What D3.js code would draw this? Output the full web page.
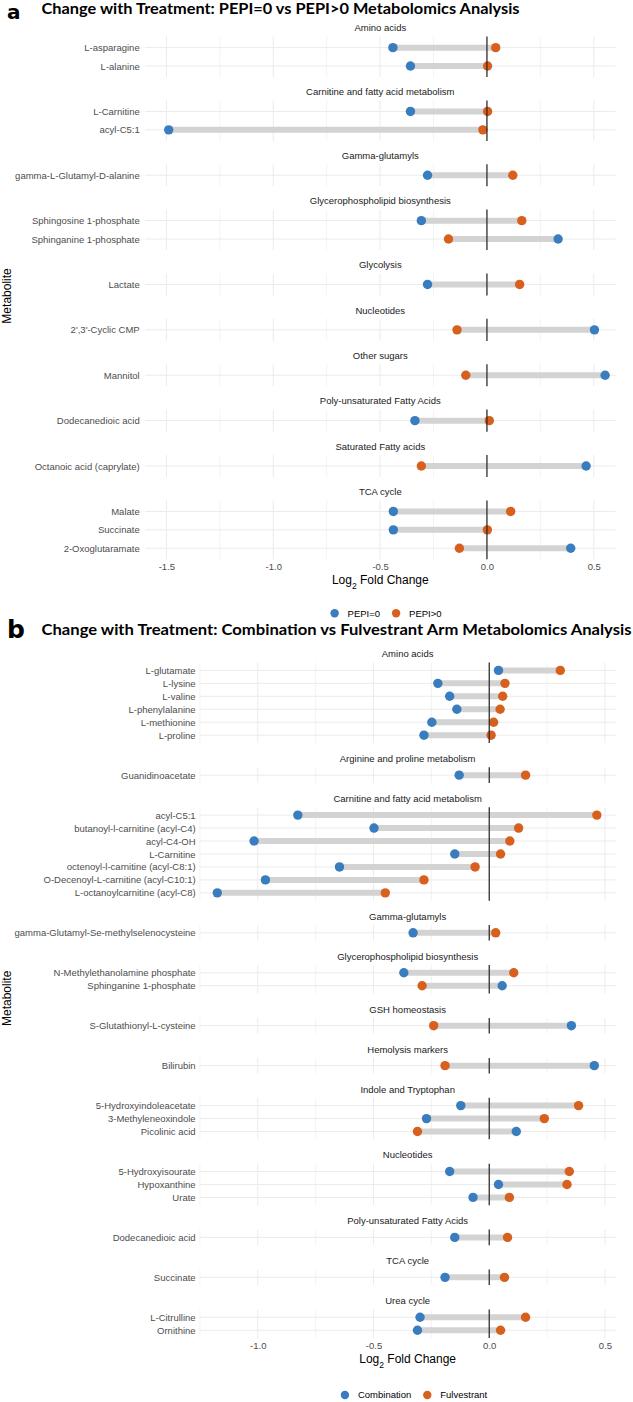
<!DOCTYPE html>
<html>
<head>
<meta charset="utf-8">
<script src="https://cdn.jsdelivr.net/npm/d3@7"></script>
<style>
  body { margin: 0; background: #fff; }
  svg { display: block; }
</style>
</head>
<body>
<div id="chart"></div>
<script>
// ── Panel a data ───────────────────────────────────────────────────────
const groupsA = ["Amino acids", "Carnitine and fatty acid metabolism", "Gamma-glutamyls",
  "Glycerophospholipid biosynthesis", "Glycolysis", "Nucleotides", "Other sugars",
  "Poly-unsaturated Fatty Acids", "Saturated Fatty acids", "TCA cycle"];
const metabolitesA = ["L-asparagine", "L-alanine", "L-Carnitine", "acyl-C5:1",
  "gamma-L-Glutamyl-D-alanine", "Sphingosine 1-phosphate", "Sphinganine 1-phosphate",
  "Lactate", "2',3'-Cyclic CMP", "Mannitol", "Dodecanedioic acid",
  "Octanoic acid (caprylate)", "Malate", "Succinate", "2-Oxoglutaramate"];
const groupIndexA = [0, 0, 1, 1, 2, 3, 3, 4, 5, 6, 7, 8, 9, 9, 9];
const pepi0   = [-0.44, -0.358, -0.358, -1.489, -0.278, -0.307, 0.333, -0.278, 0.503, 0.553, -0.337, 0.464, -0.438, -0.438, 0.392];
const pepiPos = [0.041, 0.003, 0.003, -0.019, 0.121, 0.163, -0.18, 0.153, -0.14, -0.099, 0.011, -0.307, 0.111, 0.002, -0.129];
const ticksA = [-1.5, -1.0, -0.5, 0.0, 0.5];
const legendA = ["PEPI=0", "PEPI>0"];

// ── Panel b data ───────────────────────────────────────────────────────
const groupsB = ["Amino acids", "Arginine and proline metabolism", "Carnitine and fatty acid metabolism",
  "Gamma-glutamyls", "Glycerophospholipid biosynthesis", "GSH homeostasis", "Hemolysis markers",
  "Indole and Tryptophan", "Nucleotides", "Poly-unsaturated Fatty Acids", "TCA cycle", "Urea cycle"];
const metabolitesB = ["L-glutamate", "L-lysine", "L-valine", "L-phenylalanine", "L-methionine", "L-proline",
  "Guanidinoacetate",
  "acyl-C5:1", "butanoyl-l-carnitine (acyl-C4)", "acyl-C4-OH", "L-Carnitine",
  "octenoyl-l-carnitine (acyl-C8:1)", "O-Decenoyl-L-carnitine (acyl-C10:1)", "L-octanoylcarnitine (acyl-C8)",
  "gamma-Glutamyl-Se-methylselenocysteine",
  "N-Methylethanolamine phosphate", "Sphinganine 1-phosphate",
  "S-Glutathionyl-L-cysteine", "Bilirubin",
  "5-Hydroxyindoleacetate", "3-Methyleneoxindole", "Picolinic acid",
  "5-Hydroxyisourate", "Hypoxanthine", "Urate",
  "Dodecanedioic acid", "Succinate", "L-Citrulline", "Ornithine"];
const groupIndexB = [0, 0, 0, 0, 0, 0, 1, 2, 2, 2, 2, 2, 2, 2, 3, 4, 4, 5, 6, 7, 7, 7, 8, 8, 8, 9, 10, 11, 11];
const combination = [0.040, -0.222, -0.171, -0.140, -0.248, -0.282, -0.130, -0.827, -0.498, -1.016, -0.149,
  -0.647, -0.967, -1.175, -0.329, -0.369, 0.056, 0.355, 0.454, -0.123, -0.271, 0.117, -0.171, 0.040, -0.070,
  -0.149, -0.191, -0.299, -0.310];
const fulvestrant = [0.307, 0.068, 0.058, 0.047, 0.019, 0.008, 0.157, 0.465, 0.127, 0.089, 0.049,
  -0.061, -0.282, -0.449, 0.028, 0.106, -0.290, -0.240, -0.191, 0.386, 0.238, -0.310, 0.346, 0.336, 0.087,
  0.079, 0.066, 0.157, 0.049];
const ticksB = [-1.0, -0.5, 0.0, 0.5];
const legendB = ["Combination", "Fulvestrant"];

// ── Styling ────────────────────────────────────────────────────────────
const BLUE = "#3A7DBE";
const ORANGE = "#D8601E";
const GRID = "#EBEBEB";
const SEG = "#D3D3D3";
const LABEL_FONT = "9.5px";

const svg = d3.select("#chart").append("svg")
  .attr("width", 633)
  .attr("height", 1402)
  .style("font-family", "'Liberation Sans', Arial, sans-serif");

function drawPanel(cfg) {
  const x = d3.scaleLinear().domain(cfg.domain).range([cfg.left, cfg.right]);
  const rows = cfg.names.map((name, i) => ({
    name, group: cfg.groupIndex[i], v1: cfg.vals1[i], v2: cfg.vals2[i]
  }));

  const minor = cfg.ticks.map(t => t - 0.25).concat([cfg.ticks[cfg.ticks.length - 1] + 0.25])
    .filter(t => t >= cfg.domain[0] - 0.002 && t <= cfg.domain[1]);

  const g = svg.append("g");

  // Panel letter + title
  g.append("text")
    .attr("x", 7).attr("y", cfg.letterY)
    .style("font-family", "'DejaVu Sans', sans-serif")
    .style("font-weight", "700").style("font-size", cfg.letterSize).style("fill", "#000")
    .text(cfg.letter);
  g.append("text")
    .attr("x", 41.5).attr("y", cfg.titleY)
    .attr("textLength", cfg.titleW).attr("lengthAdjust", "spacingAndGlyphs")
    .style("font-family", "Lato, 'Liberation Sans', sans-serif")
    .style("font-weight", "700").style("font-size", "15px").style("fill", "#000")
    .text(cfg.title);

  let stripY = cfg.firstStrip;
  let firstTop = null, lastBottom = null;

  cfg.groups.forEach((grp, gi) => {
    const fRows = rows.filter(r => r.group === gi);
    const n = fRows.length;
    const top = stripY + 8.6;
    const bottom = top + (n + 0.2) * cfg.unit;
    if (firstTop === null) firstTop = top;
    lastBottom = bottom;

    const y = d3.scalePoint().domain(fRows.map(r => r.name)).range([top, bottom]).padding(0.6);
    const fg = g.append("g");

    // strip label
    fg.append("text")
      .attr("x", (cfg.left + cfg.right) / 2).attr("y", stripY)
      .attr("dy", "0.35em").attr("text-anchor", "middle")
      .style("font-size", LABEL_FONT).style("fill", "#1A1A1A")
      .text(grp);

    // grid
    fg.selectAll(".minor").data(minor).join("line")
      .attr("x1", d => x(d)).attr("x2", d => x(d))
      .attr("y1", top).attr("y2", bottom)
      .style("stroke", GRID).style("stroke-width", 0.6);
    fg.selectAll(".major").data(cfg.ticks).join("line")
      .attr("x1", d => x(d)).attr("x2", d => x(d))
      .attr("y1", top).attr("y2", bottom)
      .style("stroke", GRID).style("stroke-width", 1);
    fg.selectAll(".hgrid").data(fRows).join("line")
      .attr("x1", cfg.left).attr("x2", cfg.right)
      .attr("y1", d => y(d.name)).attr("y2", d => y(d.name))
      .style("stroke", GRID).style("stroke-width", 1);

    // y axis labels
    const ya = fg.append("g")
      .attr("transform", `translate(${cfg.left},0)`)
      .call(d3.axisLeft(y).tickSize(0).tickPadding(cfg.left - cfg.labelX));
    ya.select(".domain").remove();
    ya.selectAll("text")
      .style("font-size", LABEL_FONT).style("fill", "#4D4D4D")
      .style("font-family", "'Liberation Sans', Arial, sans-serif");

    // dumbbells
    fg.selectAll(".seg").data(fRows).join("line")
      .attr("x1", d => x(d.v1)).attr("x2", d => x(d.v2))
      .attr("y1", d => y(d.name)).attr("y2", d => y(d.name))
      .style("stroke", SEG).style("stroke-width", 6);
    fg.selectAll(".p1").data(fRows).join("circle")
      .attr("cx", d => x(d.v1)).attr("cy", d => y(d.name)).attr("r", 4.7)
      .style("fill", BLUE);
    fg.selectAll(".p2").data(fRows).join("circle")
      .attr("cx", d => x(d.v2)).attr("cy", d => y(d.name)).attr("r", 4.7)
      .style("fill", ORANGE);

    // zero line
    fg.append("line")
      .attr("x1", x(0)).attr("x2", x(0))
      .attr("y1", top).attr("y2", bottom)
      .style("stroke", "#222").style("stroke-width", 1.2);

    stripY += 27 + n * cfg.unit;
  });

  // x axis
  const xa = g.append("g")
    .attr("transform", `translate(0,${lastBottom})`)
    .call(d3.axisBottom(x).tickValues(cfg.ticks).tickSize(0).tickPadding(4)
      .tickFormat(d => d.toFixed(1)));
  xa.select(".domain").remove();
  xa.selectAll("text")
    .style("font-size", LABEL_FONT).style("fill", "#4D4D4D")
    .style("font-family", "'Liberation Sans', Arial, sans-serif");

  const xt = g.append("text")
    .attr("x", (cfg.left + cfg.right) / 2).attr("y", lastBottom + 25)
    .attr("text-anchor", "middle")
    .style("font-size", "12px").style("fill", "#000");
  xt.append("tspan").text("Log");
  xt.append("tspan").attr("baseline-shift", "sub").style("font-size", "8.5px").text("2");
  xt.append("tspan").text(" Fold Change");

  // y axis title
  g.append("text")
    .attr("transform", `translate(10.5,${(firstTop + lastBottom) / 2 - 2}) rotate(-90)`)
    .attr("text-anchor", "middle")
    .style("font-size", "12px").style("fill", "#000")
    .text("Metabolite");

  // legend
  const lg = g.append("g");
  const ly = lastBottom + cfg.legendGap;
  const colors = [BLUE, ORANGE];
  let cx = 0;
  cfg.legend.forEach((lab, i) => {
    const item = lg.append("g");
    item.append("circle").attr("cx", 0).attr("cy", 0).attr("r", 4.2).style("fill", colors[i]);
    const t = item.append("text").attr("x", 13).attr("dy", "0.35em")
      .style("font-size", LABEL_FONT).style("fill", "#000").text(lab);
    const w = 13 + t.node().getComputedTextLength();
    item.attr("transform", `translate(${cx},${ly})`);
    cx += w + 16;
  });
  const total = cx - 16 + 4.2;
  lg.attr("transform", `translate(${cfg.legendCx - total / 2 + 4.2},0)`);
}

drawPanel({
  letter: "a", title: "Change with Treatment: PEPI=0 vs PEPI>0 Metabolomics Analysis",
  letterY: 18.7, letterSize: "20px", titleY: 13.5, titleW: 478,
  groups: groupsA, names: metabolitesA, groupIndex: groupIndexA, vals1: pepi0, vals2: pepiPos,
  ticks: ticksA, legend: legendA,
  domain: [-1.6, 0.602], left: 145, right: 615.6, labelX: 139.7,
  firstStrip: 28, unit: 18.4, legendCx: 386, legendGap: 54
});

drawPanel({
  letter: "b", title: "Change with Treatment: Combination vs Fulvestrant Arm Metabolomics Analysis",
  letterY: 638, letterSize: "25px", titleY: 634.5, titleW: 590,
  groups: groupsB, names: metabolitesB, groupIndex: groupIndexB, vals1: combination, vals2: fulvestrant,
  ticks: ticksB, legend: legendB,
  domain: [-1.251, 0.546], left: 199.7, right: 615.6, labelX: 195.6,
  firstStrip: 654, unit: 12.96, legendCx: 414, legendGap: 57
});
</script>
</body>
</html>
